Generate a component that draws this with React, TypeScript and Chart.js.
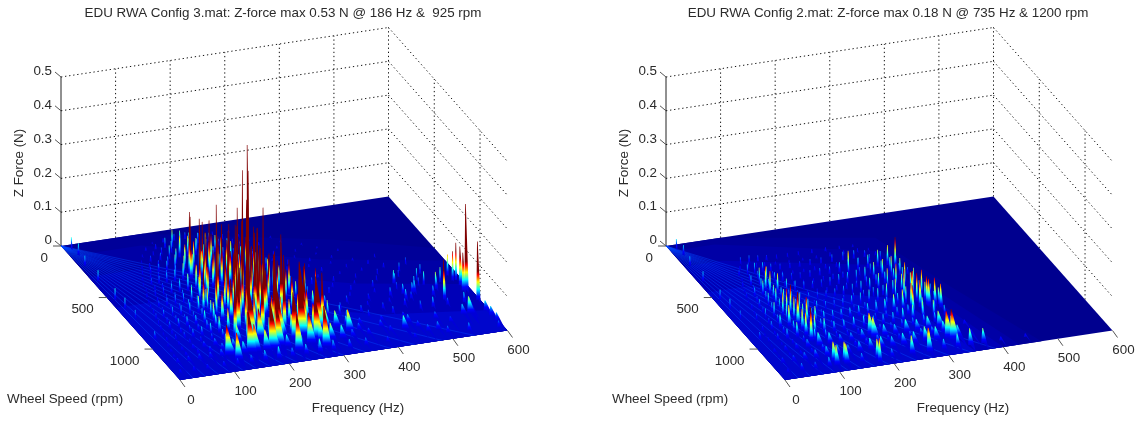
import React, { useEffect, useRef } from "react";
import { Chart, registerables } from "chart.js";

Chart.register(...registerables);

const zTicks = [0, 0.1, 0.2, 0.3, 0.4, 0.5];
const freqTicks = [0, 100, 200, 300, 400, 500, 600];
const rpmTicks = [0, 500, 1000];
const RPM_MAX = 1300;
const CMAX = 0.085;

const leftTitle = "EDU RWA Config 3.mat: Z-force max 0.53 N @ 186 Hz &  925 rpm";
const rightTitle = "EDU RWA Config 2.mat: Z-force max 0.18 N @ 735 Hz & 1200 rpm";

const leftRidgeEnds = [24, 46, 70, 92, 116, 140, 165, 190, 215, 240, 270, 300, 340, 385, 430, 480, 540];
const rightRidgeEnds = [24, 46, 70, 92, 116, 140, 165, 190, 215, 240, 270, 300, 340, 385];

const leftRowRpm = [150, 250, 350, 450, 550, 650, 750, 850, 950, 1050, 1150, 1240, 100, 200, 300, 400, 500, 600, 700, 800, 900, 1000, 1100];
const leftRowFreq = [
  [130, 148, 165, 178, 192, 208, 225, 245, 270, 300],
  [105, 122, 140, 156, 175, 190, 205, 222, 240, 262, 285, 320, 360],
  [90, 105, 120, 135, 150, 168, 184, 200, 216, 234, 252, 270, 292, 330, 370, 410],
  [75, 90, 104, 118, 133, 148, 164, 180, 196, 212, 228, 244, 262, 280, 300, 340, 380, 420],
  [65, 80, 95, 110, 125, 140, 155, 170, 186, 202, 218, 234, 250, 268, 286, 306, 345, 385, 430, 470],
  [55, 70, 85, 100, 115, 130, 145, 160, 176, 192, 208, 224, 240, 256, 272, 290, 310, 350, 390, 430, 470, 510],
  [48, 62, 78, 94, 110, 126, 142, 158, 174, 190, 206, 222, 238, 254, 270, 286, 304, 325, 365, 405, 445, 485, 525],
  [40, 56, 72, 88, 104, 120, 136, 152, 168, 184, 200, 216, 232, 248, 264, 280, 298, 318, 340, 380, 420, 460, 500],
  [34, 50, 66, 82, 98, 114, 130, 146, 162, 178, 194, 210, 226, 242, 258, 274, 290, 308, 328, 350, 390, 430, 470],
  [25, 45, 65, 85, 105, 125, 145, 165, 185, 205, 225, 245, 265, 285, 305, 325, 345, 370, 410, 450],
  [20, 40, 60, 80, 100, 120, 140, 160, 180, 200, 220, 240, 260, 280, 300, 320, 340, 370, 410, 460, 520],
  [10, 35, 60, 90, 115, 140, 165, 190, 215, 240, 265, 290, 320, 350, 390, 440, 500],
  [150, 170, 190, 210, 235, 260, 290],
  [115, 135, 150, 168, 184, 200, 215, 232, 255, 280, 310, 350],
  [98, 112, 128, 145, 160, 176, 192, 210, 228, 246, 265, 300, 345, 390],
  [82, 97, 111, 126, 142, 158, 174, 190, 206, 222, 240, 258, 276, 320, 360, 400, 440],
  [72, 88, 102, 118, 133, 148, 164, 180, 196, 260, 296, 330, 370, 410, 450, 490],
  [60, 76, 92, 108, 122, 138, 152, 168, 320, 370, 410, 450, 490, 530],
  [52, 68, 84, 100, 116, 132, 148, 330, 380, 420, 460, 500, 540],
  [44, 60, 76, 92, 108, 124, 140, 345, 395, 440, 480, 520, 560],
  [36, 52, 68, 84, 100, 116, 132, 360, 410, 450, 490, 530],
  [28, 48, 68, 88, 108, 128, 355, 395, 440, 490, 540, 570],
  [22, 44, 66, 88, 110, 130, 360, 400, 450, 500, 550],
];
const leftRowForce = [
  [0.01, 0.015, 0.03, 0.05, 0.045, 0.035, 0.03, 0.025, 0.015, 0.008],
  [0.008, 0.018, 0.022, 0.04, 0.065, 0.06, 0.05, 0.06, 0.05, 0.035, 0.02, 0.01, 0.007],
  [0.012, 0.018, 0.025, 0.03, 0.045, 0.07, 0.075, 0.08, 0.09, 0.075, 0.06, 0.04, 0.02, 0.012, 0.008, 0.006],
  [0.01, 0.02, 0.024, 0.03, 0.035, 0.05, 0.085, 0.09, 0.1, 0.09, 0.1, 0.08, 0.1, 0.05, 0.03, 0.014, 0.01, 0.008],
  [0.012, 0.018, 0.022, 0.03, 0.035, 0.05, 0.075, 0.095, 0.11, 0.12, 0.1, 0.13, 0.12, 0.09, 0.06, 0.03, 0.016, 0.012, 0.01, 0.012],
  [0.012, 0.02, 0.025, 0.03, 0.03, 0.045, 0.065, 0.09, 0.12, 0.14, 0.13, 0.15, 0.14, 0.13, 0.11, 0.07, 0.035, 0.02, 0.014, 0.012, 0.016, 0.025],
  [0.018, 0.025, 0.03, 0.03, 0.035, 0.05, 0.07, 0.1, 0.13, 0.16, 0.15, 0.17, 0.16, 0.14, 0.12, 0.09, 0.05, 0.03, 0.018, 0.014, 0.02, 0.03, 0.035],
  [0.015, 0.022, 0.028, 0.03, 0.03, 0.04, 0.06, 0.09, 0.12, 0.15, 0.14, 0.15, 0.13, 0.12, 0.1, 0.1, 0.06, 0.05, 0.03, 0.02, 0.016, 0.025, 0.03],
  [0.012, 0.016, 0.02, 0.024, 0.028, 0.035, 0.05, 0.07, 0.1, 0.12, 0.1, 0.11, 0.09, 0.08, 0.07, 0.08, 0.09, 0.07, 0.05, 0.03, 0.02, 0.018, 0.02],
  [0.01, 0.012, 0.014, 0.018, 0.022, 0.03, 0.05, 0.085, 0.09, 0.06, 0.075, 0.06, 0.09, 0.08, 0.07, 0.05, 0.03, 0.018, 0.016, 0.016],
  [0.014, 0.016, 0.018, 0.018, 0.022, 0.028, 0.035, 0.08, 0.06, 0.04, 0.035, 0.06, 0.09, 0.06, 0.05, 0.04, 0.022, 0.018, 0.016, 0.018, 0.016],
  [0.012, 0.014, 0.014, 0.016, 0.018, 0.022, 0.03, 0.035, 0.025, 0.03, 0.04, 0.03, 0.025, 0.022, 0.016, 0.014, 0.02],
  [0.006, 0.012, 0.02, 0.02, 0.012, 0.01, 0.008],
  [0.008, 0.012, 0.02, 0.035, 0.04, 0.035, 0.03, 0.025, 0.02, 0.014, 0.008, 0.006],
  [0.01, 0.014, 0.018, 0.025, 0.045, 0.045, 0.035, 0.045, 0.035, 0.028, 0.02, 0.01, 0.008, 0.006],
  [0.01, 0.014, 0.018, 0.02, 0.03, 0.055, 0.055, 0.06, 0.055, 0.045, 0.035, 0.035, 0.02, 0.008, 0.007, 0.006, 0.007],
  [0.01, 0.014, 0.018, 0.02, 0.024, 0.035, 0.055, 0.08, 0.08, 0.08, 0.035, 0.012, 0.009, 0.008, 0.008, 0.01],
  [0.01, 0.014, 0.018, 0.02, 0.024, 0.035, 0.055, 0.08, 0.016, 0.01, 0.009, 0.01, 0.014, 0.02],
  [0.012, 0.016, 0.02, 0.02, 0.028, 0.035, 0.05, 0.022, 0.012, 0.01, 0.014, 0.02, 0.028],
  [0.014, 0.018, 0.02, 0.02, 0.024, 0.03, 0.05, 0.022, 0.012, 0.012, 0.02, 0.024, 0.045],
  [0.01, 0.014, 0.016, 0.02, 0.02, 0.028, 0.04, 0.02, 0.012, 0.012, 0.02, 0.028],
  [0.01, 0.012, 0.014, 0.016, 0.02, 0.028, 0.03, 0.02, 0.02, 0.024, 0.02, 0.03],
  [0.01, 0.012, 0.014, 0.018, 0.022, 0.03, 0.02, 0.02, 0.024, 0.02, 0.03],
];
const leftSpikeRpm = [400, 450, 400, 450, 400, 550, 500, 600, 800, 900, 750, 850, 650, 550, 700, 620, 700, 700, 800, 800, 900, 900, 850, 1000, 1000, 950, 1050, 1000, 1100, 1150, 1150, 1200, 1150, 1200, 1200, 1100, 600, 550, 750, 1000, 650, 700, 750, 780, 900, 1000, 850, 950, 850, 800, 800, 750, 900, 800, 750, 850, 800, 850, 900, 1100, 1000, 1150, 1200, 1250, 1200, 1050, 40, 100, 200, 350, 530, 620, 720, 920, 1100, 1150, 1200, 1260, 500, 520, 600, 650, 680, 720, 780, 830, 870, 920, 950, 980, 1030, 1060, 1020, 1080, 1130, 1130];
const leftSpikeFreq = [168, 161, 186, 183, 204, 192, 210, 222, 198, 190, 217, 197, 261, 260, 242, 150, 170, 200, 150, 230, 170, 240, 260, 200, 240, 285, 290, 310, 240, 150, 190, 120, 110, 230, 280, 340, 230, 215, 135, 150, 280, 300, 320, 335, 590, 595, 588, 541, 504, 589, 583, 582, 585, 530, 483, 543, 512, 483, 480, 562, 513, 434, 488, 537, 470, 570, 12, 15, 10, 9, 10, 13, 15, 17, 592, 594, 596, 590, 180, 235, 165, 210, 245, 185, 175, 215, 225, 205, 165, 225, 170, 215, 265, 255, 205, 275];
const leftSpikeForce = [0.182, 0.184, 0.157, 0.164, 0.148, 0.243, 0.166, 0.242, 0.42, 0.527, 0.398, 0.348, 0.248, 0.161, 0.208, 0.2, 0.2, 0.17, 0.2, 0.19, 0.22, 0.2, 0.23, 0.2, 0.22, 0.16, 0.16, 0.15, 0.14, 0.12, 0.14, 0.08, 0.09, 0.11, 0.12, 0.065, 0.2, 0.18, 0.15, 0.18, 0.1, 0.1, 0.1, 0.09, 0.255, 0.173, 0.114, 0.117, 0.035, 0.11, 0.086, 0.062, 0.112, 0.04, 0.04, 0.05, 0.03, 0.03, 0.03, 0.049, 0.03, 0.04, 0.024, 0.024, 0.02, 0.032, 0.035, 0.035, 0.03, 0.033, 0.035, 0.033, 0.027, 0.024, 0.03, 0.028, 0.024, 0.02, 0.15, 0.16, 0.17, 0.21, 0.2, 0.19, 0.24, 0.24, 0.2, 0.27, 0.2, 0.22, 0.16, 0.17, 0.2, 0.17, 0.12, 0.13];

const rightRowRpm = [250, 350, 450, 550, 650, 750, 850, 950, 1050, 1150, 1240, 300, 400, 500, 600, 700, 800, 900, 1000, 1100];
const rightRowFreq = [
  [94, 110, 126, 142, 160, 180, 200, 225, 250, 275, 300],
  [75, 90, 103, 118, 133, 150, 168, 186, 205, 225, 245, 265, 285, 305, 325],
  [65, 80, 95, 108, 123, 138, 154, 170, 188, 206, 224, 242, 258, 276, 294, 312, 330, 345],
  [55, 70, 85, 98, 112, 128, 144, 160, 176, 192, 208, 224, 240, 256, 272, 288, 304, 320, 336, 350],
  [48, 62, 78, 92, 106, 120, 136, 152, 168, 184, 200, 216, 232, 248, 264, 280, 296, 312, 328, 344, 360],
  [40, 56, 72, 88, 102, 118, 134, 150, 166, 182, 198, 214, 230, 246, 262, 278, 294, 310, 326, 342, 358],
  [34, 50, 66, 82, 98, 114, 130, 146, 162, 178, 194, 210, 226, 242, 258, 274, 290, 306, 322, 338, 356],
  [28, 45, 62, 80, 96, 112, 130, 148, 166, 184, 202, 220, 238, 256, 274, 292, 310, 330, 350],
  [22, 42, 62, 82, 102, 122, 142, 162, 182, 202, 222, 242, 262, 282, 302, 322, 345, 370],
  [20, 40, 60, 80, 100, 120, 140, 160, 180, 200, 220, 240, 260, 280, 300, 320, 340, 365],
  [15, 40, 65, 90, 103, 121, 150, 178, 205, 241, 272, 300, 325, 348, 372, 405, 450],
  [85, 100, 115, 130, 150, 175, 200, 225, 250, 275, 300, 320],
  [72, 86, 100, 114, 128, 146, 165, 185, 205, 225, 245, 265, 285, 305, 325, 345],
  [60, 76, 90, 104, 118, 134, 150, 168, 186, 204, 222, 240, 270, 290, 310, 326, 342],
  [50, 66, 82, 96, 110, 124, 140, 158, 176, 194, 212, 230, 248, 266, 284, 300, 316, 332, 348],
  [44, 60, 76, 90, 104, 120, 136, 154, 172, 190, 208, 226, 244, 262, 280, 298, 314, 330, 346],
  [38, 54, 70, 86, 100, 116, 132, 150, 170, 190, 210, 230, 250, 270, 290, 305, 340, 356],
  [30, 48, 64, 82, 98, 114, 132, 152, 172, 192, 212, 232, 252, 272, 292, 318, 340],
  [25, 44, 64, 84, 104, 124, 144, 164, 184, 204, 224, 244, 264, 284, 304, 324, 350],
  [22, 42, 62, 82, 102, 122, 142, 162, 182, 202, 222, 242, 262, 282, 302, 322, 342],
];
const rightRowForce = [
  [0.02, 0.022, 0.018, 0.015, 0.012, 0.012, 0.012, 0.012, 0.012, 0.01, 0.008],
  [0.018, 0.03, 0.032, 0.03, 0.022, 0.018, 0.016, 0.016, 0.018, 0.018, 0.022, 0.025, 0.025, 0.02, 0.012],
  [0.015, 0.03, 0.05, 0.05, 0.03, 0.025, 0.02, 0.018, 0.02, 0.022, 0.022, 0.03, 0.06, 0.035, 0.04, 0.05, 0.06, 0.03],
  [0.015, 0.028, 0.045, 0.07, 0.06, 0.04, 0.03, 0.024, 0.022, 0.022, 0.025, 0.03, 0.032, 0.035, 0.04, 0.05, 0.055, 0.06, 0.05, 0.02],
  [0.014, 0.026, 0.04, 0.05, 0.045, 0.035, 0.028, 0.024, 0.022, 0.022, 0.024, 0.028, 0.03, 0.035, 0.04, 0.05, 0.06, 0.07, 0.07, 0.05, 0.015],
  [0.018, 0.03, 0.045, 0.07, 0.09, 0.06, 0.04, 0.03, 0.025, 0.024, 0.026, 0.03, 0.035, 0.04, 0.04, 0.05, 0.06, 0.085, 0.075, 0.075, 0.03],
  [0.014, 0.025, 0.04, 0.065, 0.1, 0.08, 0.05, 0.032, 0.03, 0.03, 0.03, 0.032, 0.035, 0.035, 0.04, 0.05, 0.06, 0.075, 0.08, 0.08, 0.05],
  [0.012, 0.02, 0.03, 0.045, 0.07, 0.06, 0.045, 0.032, 0.032, 0.035, 0.035, 0.03, 0.03, 0.032, 0.04, 0.045, 0.05, 0.05, 0.03],
  [0.012, 0.016, 0.018, 0.025, 0.04, 0.035, 0.025, 0.025, 0.03, 0.06, 0.035, 0.03, 0.04, 0.035, 0.04, 0.05, 0.03, 0.012],
  [0.016, 0.018, 0.022, 0.025, 0.03, 0.03, 0.025, 0.03, 0.035, 0.035, 0.03, 0.035, 0.035, 0.045, 0.04, 0.08, 0.035, 0.015],
  [0.012, 0.022, 0.02, 0.028, 0.06, 0.06, 0.025, 0.06, 0.025, 0.055, 0.07, 0.03, 0.04, 0.05, 0.045, 0.012, 0.01],
  [0.012, 0.018, 0.014, 0.012, 0.009, 0.008, 0.008, 0.009, 0.012, 0.012, 0.012, 0.008],
  [0.01, 0.018, 0.024, 0.02, 0.016, 0.012, 0.01, 0.01, 0.012, 0.014, 0.014, 0.018, 0.018, 0.024, 0.028, 0.012],
  [0.01, 0.018, 0.035, 0.03, 0.024, 0.016, 0.012, 0.012, 0.012, 0.014, 0.016, 0.018, 0.024, 0.03, 0.034, 0.04, 0.018],
  [0.01, 0.018, 0.03, 0.045, 0.034, 0.024, 0.018, 0.014, 0.014, 0.014, 0.016, 0.018, 0.02, 0.028, 0.03, 0.034, 0.04, 0.04, 0.018],
  [0.01, 0.018, 0.028, 0.036, 0.036, 0.028, 0.02, 0.016, 0.014, 0.016, 0.018, 0.02, 0.024, 0.028, 0.03, 0.04, 0.055, 0.055, 0.028],
  [0.01, 0.018, 0.024, 0.045, 0.07, 0.045, 0.028, 0.02, 0.016, 0.018, 0.018, 0.022, 0.024, 0.028, 0.034, 0.05, 0.055, 0.024],
  [0.009, 0.012, 0.02, 0.034, 0.065, 0.045, 0.028, 0.018, 0.018, 0.02, 0.02, 0.02, 0.022, 0.028, 0.03, 0.045, 0.03],
  [0.008, 0.01, 0.014, 0.02, 0.035, 0.028, 0.018, 0.018, 0.018, 0.028, 0.02, 0.02, 0.024, 0.024, 0.028, 0.03, 0.014],
  [0.008, 0.01, 0.012, 0.014, 0.02, 0.018, 0.016, 0.016, 0.018, 0.024, 0.018, 0.018, 0.02, 0.024, 0.024, 0.036, 0.018],
];
const rightSpikeRpm = [480, 520, 1000, 753, 780, 800, 839, 849, 880, 1170, 1022, 480, 900, 1244, 1267, 1207, 1221, 40, 100, 200, 350, 530, 620, 720, 920];
const rightSpikeFreq = [339, 95, 97, 94, 319, 325, 336, 349, 355, 326, 200, 253, 300, 272, 178, 103, 121, 12, 15, 10, 9, 10, 13, 15, 17];
const rightSpikeForce = [0.09, 0.075, 0.1, 0.08, 0.085, 0.085, 0.085, 0.08, 0.07, 0.09, 0.065, 0.065, 0.085, 0.07, 0.07, 0.06, 0.06, 0.03, 0.03, 0.028, 0.03, 0.03, 0.03, 0.025, 0.022];

const leftBands = [
  { freq: [0, 150, 450, 600, 600, 0], rpm: [0, 0, 300, 500, 1300, 1300], color: "#000099" },
  { freq: [0, 130, 400, 600, 600, 0], rpm: [100, 100, 450, 620, 1300, 1300], color: "#0000a6" },
  { freq: [0, 120, 420, 600, 600, 0], rpm: [300, 300, 700, 850, 1300, 1300], color: "#0000b8" },
  { freq: [0, 110, 420, 600, 600, 0], rpm: [600, 600, 1000, 1100, 1300, 1300], color: "#0006cc" },
];
const rightBands = [
  { freq: [0, 100, 350, 400, 470, 0], rpm: [0, 0, 200, 700, 1300, 1300], color: "#000099" },
  { freq: [0, 80, 340, 380, 430, 0], rpm: [50, 50, 320, 800, 1300, 1300], color: "#0000a6" },
  { freq: [0, 70, 330, 365, 400, 0], rpm: [200, 200, 450, 900, 1300, 1300], color: "#0000b8" },
  { freq: [0, 70, 300, 350, 0], rpm: [450, 450, 750, 1300, 1300], color: "#0006cc" },
];

const jetKeys: [number, number[]][] = [
  [0, [0, 0, 143]],
  [0.125, [0, 0, 255]],
  [0.375, [0, 255, 255]],
  [0.625, [255, 255, 0]],
  [0.875, [255, 0, 0]],
  [1, [128, 0, 0]],
];
function jet(t: number) {
  const v = Math.max(0, Math.min(1, t));
  for (let i = 1; i < jetKeys.length; i++) {
    if (v <= jetKeys[i][0]) {
      const [a, ca] = jetKeys[i - 1];
      const [b, cb] = jetKeys[i];
      const k = (v - a) / (b - a);
      const c = ca.map((q, j) => Math.round(q + (cb[j] - q) * k));
      return `rgb(${c[0]},${c[1]},${c[2]})`;
    }
  }
  return "rgb(128,0,0)";
}

function project(f: number, r: number, z: number) {
  return {
    x: 61 + (f * 327.5) / 600 + (r * 119) / RPM_MAX,
    y: 246 - (f * 49.5) / 600 + (r * 134) / RPM_MAX - z * 338,
  };
}

function spikeDataset(f: number, r: number, z: number) {
  const tail = r > 1000 ? 120 : r > 800 ? 30 : 10;
  const halfW = r > 1000 ? 2.4 : 1.8;
  const rEnd = Math.min(RPM_MAX, r + tail);
  const data = [
    project(Math.max(0, f - halfW), r, 0),
    project(f - 0.5, r, z),
    project(f + 0.7, r, z),
    project(Math.min(600, f + halfW * 0.6), rEnd, 0),
    project(Math.min(600, f + halfW), r, 0),
  ];
  const base = project(f, r, 0).y;
  const top = project(f, r, z).y;
  return {
    data,
    fill: "shape",
    borderWidth: 0,
    pointRadius: 0,
    tension: 0,
    depth: base,
    backgroundColor: (c: any) => {
      const sy = c.chart.scales.y;
      const px = (v: number) => {
        const p = sy ? sy.getPixelForValue(v) : v;
        return Number.isFinite(p) ? p : v;
      };
      const g = c.chart.ctx.createLinearGradient(0, px(base), 0, px(top));
      g.addColorStop(0, jet(0.08));
      for (const [t] of jetKeys) {
        const pos = (t * CMAX) / z;
        if (t > 0.08 && pos < 1) g.addColorStop(pos, jet(t));
      }
      g.addColorStop(1, jet(z / CMAX));
      return g;
    },
  };
}

function lineDataset(pts: { x: number; y: number }[], color: string, width: number, dash: number[] = []) {
  return { data: pts, borderColor: color, borderWidth: width, borderDash: dash, pointRadius: 0, tension: 0, fill: false, backgroundColor: color };
}

function polyDataset(pts: { x: number; y: number }[], color: string) {
  return { data: pts, fill: "shape", borderWidth: 0, pointRadius: 0, tension: 0, backgroundColor: color };
}

function buildDatasets(rowRpm: number[], rowFreq: number[][], rowForce: number[][], spikeRpm: number[], spikeFreq: number[], spikeForce: number[], bands: any[], ridgeEnds: number[]) {
  const spikes: any[] = [];
  rowRpm.forEach((r, i) => rowFreq[i].forEach((f, j) => spikes.push(spikeDataset(f, r, rowForce[i][j]))));
  spikeRpm.forEach((r, i) => spikes.push(spikeDataset(spikeFreq[i], r, spikeForce[i])));
  spikes.sort((a, b) => b.depth - a.depth);

  const ridges = ridgeEnds.map((e) => lineDataset([project(0, 0, 0), project(e, RPM_MAX, 0)], "rgba(0,70,255,0.45)", 1));
  const floorBands = [...bands].reverse().map((b) => polyDataset(b.freq.map((f: number, i: number) => project(f, b.rpm[i], 0)), b.color));
  const floor = polyDataset([project(0, 0, 0), project(600, 0, 0), project(600, RPM_MAX, 0), project(0, RPM_MAX, 0)], "#00008f");

  const dash = [1.3, 2.8];
  const grid: any[] = [];
  zTicks.slice(1).forEach((z) => {
    grid.push(lineDataset([project(0, 0, z), project(600, 0, z)], "#111", 1, dash));
    grid.push(lineDataset([project(600, 0, z), project(600, RPM_MAX, z)], "#111", 1, dash));
  });
  freqTicks.slice(1).forEach((f) => grid.push(lineDataset([project(f, 0, 0), project(f, 0, 0.5)], "#111", 1, dash)));
  rpmTicks.slice(1).forEach((r) => grid.push(lineDataset([project(600, r, 0), project(600, r, 0.5)], "#111", 1, dash)));
  grid.push(lineDataset([project(0, 0, 0), project(0, 0, 0.5)], "#222", 1));

  const tick: any[] = [];
  zTicks.forEach((z) => {
    const p = project(0, 0, z);
    tick.push(lineDataset([p, { x: p.x - 6, y: p.y - 5 }], "#555", 1));
  });
  rpmTicks.forEach((r) => {
    const p = project(0, r, 0);
    tick.push(lineDataset([p, { x: p.x - 8, y: p.y }], "#555", 1));
  });
  freqTicks.forEach((f) => {
    const p = project(f, RPM_MAX, 0);
    tick.push(lineDataset([p, { x: p.x + 5, y: p.y + 7 }], "#555", 1));
  });
  return [...tick, ...spikes, ...ridges, ...floorBands, floor, ...grid];
}

function Panel({ left, width, title, datasets }: any) {
  const ref = useRef<HTMLCanvasElement>(null);
  useEffect(() => {
    const textPlugin = {
      id: "axisText",
      afterDraw(chart: any) {
        const ctx = chart.ctx;
        const sx = chart.scales.x;
        const sy = chart.scales.y;
        const put = (t: string, x: number, y: number, align: CanvasTextAlign) => {
          ctx.textAlign = align;
          ctx.fillText(t, sx.getPixelForValue(x), sy.getPixelForValue(y));
        };
        ctx.save();
        ctx.fillStyle = "#2b2b2b";
        ctx.textBaseline = "middle";
        ctx.font = "13.4px 'Liberation Sans'";
        put(title, 283, 13, "center");
        zTicks.forEach((z) => {
          const p = project(0, 0, z);
          put(String(z), 52, p.y - 5.5, "right");
        });
        rpmTicks.forEach((r) => {
          const p = project(0, r, 0);
          put(String(r), p.x - 13, p.y + 12, "right");
        });
        freqTicks.forEach((f) => {
          const p = project(f, RPM_MAX, 0);
          put(String(f), p.x + 11, p.y + 20, "center");
        });
        put("Wheel Speed (rpm)", 7, 399, "left");
        put("Frequency (Hz)", 358, 408, "center");
        ctx.translate(sx.getPixelForValue(19), sy.getPixelForValue(163));
        ctx.rotate(-Math.PI / 2);
        ctx.textAlign = "center";
        ctx.fillText("Z Force (N)", 0, 0);
        ctx.restore();
      },
    };
    const chart = new Chart(ref.current as HTMLCanvasElement, {
      type: "line",
      data: { datasets },
      options: {
        animation: false,
        responsive: false,
        events: [],
        layout: { padding: 0 },
        plugins: { legend: { display: false }, title: { display: false }, tooltip: { enabled: false } },
        scales: {
          x: { type: "linear", min: 0, max: width, display: false },
          y: { type: "linear", min: 0, max: 421, reverse: true, display: false },
        },
      },
      plugins: [textPlugin],
    } as any);
    return () => chart.destroy();
  }, []);
  return (
    <canvas
      ref={ref}
      width={width}
      height={421}
      style={{ position: "absolute", left, top: 0, width, height: 421, filter: "blur(0.5px)" }}
    />
  );
}

export default function App() {
  const leftData = buildDatasets(leftRowRpm, leftRowFreq, leftRowForce, leftSpikeRpm, leftSpikeFreq, leftSpikeForce, leftBands, leftRidgeEnds);
  const rightData = buildDatasets(rightRowRpm, rightRowFreq, rightRowForce, rightSpikeRpm, rightSpikeFreq, rightSpikeForce, rightBands, rightRidgeEnds);
  return (
    <div style={{ position: "absolute", left: 0, top: 0, width: 1142, height: 421, background: "#fff", overflow: "hidden" }}>
      <Panel left={0} width={605} title={leftTitle} datasets={leftData} />
      <Panel left={605} width={537} title={rightTitle} datasets={rightData} />
    </div>
  );
}
